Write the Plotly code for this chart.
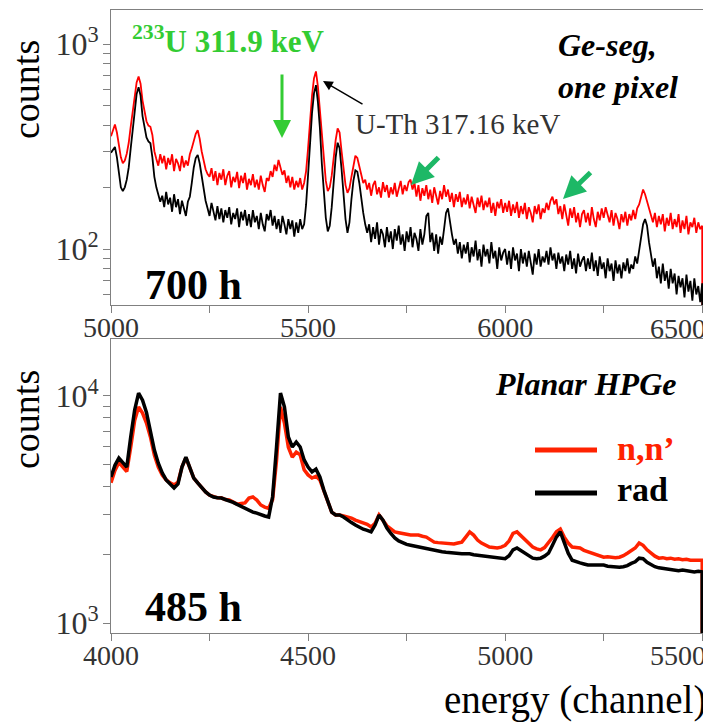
import plotly.graph_objects as go

# ---------------- data ----------------
top_channels = list(range(5000, 6501, 5))
top_nn = [355, 380, 405, 370, 320, 280, 262, 270, 292, 330,
          395, 470, 565, 650, 695, 640, 530, 470, 420, 400,
          395, 360, 300, 275, 255, 290, 262, 285, 245, 278,
          258, 290, 240, 275, 262, 240, 285, 250, 270, 255,
          290, 310, 340, 365, 380, 345, 300, 270, 245, 232,
          225, 248, 215, 240, 205, 235, 218, 245, 205, 228,
          240, 200, 225, 212, 238, 198, 228, 210, 235, 195,
          220, 205, 232, 200, 218, 195, 228, 205, 190, 222,
          215, 240, 225, 258, 240, 272, 250, 230, 242, 210,
          228, 200, 225, 195, 215, 200, 222, 195, 210, 240,
          310, 420, 560, 680, 735, 620, 470, 340, 262, 215,
          192, 200, 228, 280, 340, 388, 370, 300, 245, 205,
          188, 198, 225, 260, 285, 278, 255, 230, 210, 218,
          195, 210, 182, 205, 215, 185, 200, 178, 212, 190,
          205, 178, 200, 185, 210, 180, 198, 215, 185, 205,
          192, 212, 218, 195, 210, 180, 205, 172, 198, 182,
          205, 175, 195, 168, 200, 180, 165, 192, 175, 205,
          180, 195, 170, 188, 160, 185, 170, 190, 160, 178,
          165, 185, 158, 180, 165, 150, 178, 160, 182, 155,
          172, 160, 178, 150, 168, 145, 170, 158, 175, 150,
          168, 152, 172, 145, 165, 150, 170, 142, 162, 148,
          168, 140, 160, 150, 135, 162, 148, 165, 140, 158,
          150, 168, 155, 172, 180, 165, 175, 148, 162, 140,
          165, 145, 130, 158, 142, 160, 135, 150, 128, 148,
          155, 135, 150, 130, 160, 140, 128, 152, 138, 158,
          142, 160, 148, 135, 155, 130, 150, 140, 125, 148,
          135, 152, 130, 148, 138, 155, 140, 158, 165, 180,
          195, 185, 172, 160, 145, 135, 150, 128, 145, 132,
          148, 122, 142, 130, 150, 125, 140, 128, 148, 120,
          138, 125, 145, 118, 135, 128, 142, 120, 135, 125,
          130]
top_rad = [295, 305, 315, 280, 235, 200, 192, 200, 218, 250,
           310, 390, 480, 570, 615, 560, 445, 390, 350, 335,
           328, 280, 225, 200, 185, 170, 182, 160, 190, 165,
           178, 152, 185, 160, 175, 148, 172, 155, 145, 170,
           180, 210, 250, 278, 288, 262, 225, 195, 172, 158,
           145, 168, 150, 138, 162, 140, 158, 135, 155, 142,
           160, 132, 150, 140, 158, 128, 152, 138, 155, 130,
           148, 128, 155, 135, 145, 125, 150, 132, 122, 148,
           138, 155, 130, 145, 125, 140, 120, 145, 132, 118,
           140, 125, 138, 115, 135, 120, 140, 125, 132, 165,
           230, 330, 460, 575, 630, 520, 390, 260, 185, 142,
           122, 130, 160, 215, 280, 330, 310, 245, 185, 140,
           120, 135, 175, 215, 242, 238, 210, 175, 150, 132,
           120, 132, 108, 128, 112, 135, 105, 125, 118, 102,
           128, 108, 122, 100, 125, 110, 130, 105, 118, 98,
           122, 108, 128, 102, 120, 112, 98, 125, 105, 118,
           145, 150, 108, 120, 98, 118, 95, 115, 105, 125,
           150, 158, 132, 118, 105, 112, 95, 108, 90, 105,
           95, 108, 86, 102, 92, 110, 88, 100, 82, 105,
           92, 100, 85, 108, 90, 98, 80, 102, 88, 96,
           100, 84, 98, 80, 102, 88, 95, 78, 100, 85,
           96, 82, 98, 86, 75, 95, 84, 100, 82, 92,
           86, 98, 84, 102, 88, 95, 80, 96, 85, 92,
           78, 94, 84, 98, 80, 90, 76, 95, 82, 88,
           92, 78, 90, 80, 96, 78, 88, 74, 92, 80,
           86, 72, 90, 78, 85, 70, 88, 76, 84, 72,
           86, 78, 90, 76, 84, 80, 92, 85, 98, 115,
           132, 140, 130, 108, 95, 82, 90, 72, 82, 68,
           85, 70, 78, 64, 80, 68, 76, 60, 74, 65,
           72, 58, 75, 62, 70, 56, 72, 60, 66, 55,
           68]
top_last_channel = 6501
top_last_value = 1

bot_channels = list(range(4000, 5501, 10))
bot_nn = [4150, 4700, 5100, 4900, 4650, 5950, 7800, 8950, 8400, 7600, 6600, 5500, 4860, 4490, 4270, 4140, 4060, 4170, 4860, 5350,
          4860, 4350, 4140, 3930, 3780, 3660, 3600, 3560, 3560, 3500, 3480, 3400, 3340, 3360, 3380, 3550, 3590, 3480, 3310, 3240,
          3200, 3500, 5200, 8950, 7600, 5950, 5380, 5660, 5500, 4730, 4490, 4350, 4430, 4270, 3850, 3410, 3080, 2990, 2990, 2960,
          2930, 2900, 2840, 2800, 2750, 2720, 2650, 2750, 2990, 2840, 2680, 2600, 2520, 2500, 2490, 2460, 2440, 2450, 2440, 2410,
          2390, 2330, 2270, 2260, 2250, 2240, 2250, 2230, 2250, 2270, 2390, 2520, 2440, 2320, 2250, 2200, 2160, 2150, 2140, 2160,
          2200, 2300, 2480, 2520, 2420, 2320, 2230, 2160, 2120, 2100, 2150, 2250, 2380, 2520, 2590, 2390, 2250, 2160, 2150, 2140,
          2090, 2060, 2020, 1990, 1970, 1950, 1960, 1950, 1940, 1950, 1980, 2030, 2080, 2140, 2250, 2200, 2100, 2030, 1970, 1930,
          1940, 1920, 1930, 1910, 1920, 1900, 1910, 1890, 1890, 1880, 1890]
bot_rad = [4400, 4950, 5330, 5100, 4860, 6600, 8670, 10300, 9590, 8470, 7080, 5780, 5060, 4580, 4270, 4100, 3930, 4100, 4860, 5380,
           4860, 4350, 4140, 3930, 3780, 3660, 3590, 3560, 3550, 3500, 3460, 3400, 3330, 3260, 3210, 3140, 3080, 3050, 2990, 2960,
           2930, 3600, 5960, 10300, 8960, 6600, 5960, 6270, 5960, 5230, 4860, 4630, 4760, 4400, 3850, 3410, 3080, 2990, 2990, 2930,
           2840, 2770, 2700, 2640, 2590, 2560, 2520, 2700, 2990, 2840, 2620, 2480, 2370, 2300, 2250, 2220, 2200, 2180, 2160, 2150,
           2140, 2120, 2100, 2080, 2060, 2050, 2040, 2040, 2030, 2020, 2020, 2020, 2000, 1990, 1980, 1960, 1950, 1940, 1930, 1920,
           1920, 1980, 2100, 2140, 2080, 2030, 1970, 1930, 1920, 1930, 1970, 2030, 2200, 2390, 2520, 2250, 2030, 1890, 1860, 1840,
           1820, 1800, 1800, 1800, 1790, 1800, 1780, 1770, 1770, 1760, 1770, 1790, 1830, 1860, 1930, 1920, 1850, 1800, 1770, 1750,
           1740, 1720, 1710, 1710, 1700, 1710, 1700, 1690, 1680, 1690, 1680]
bot_last_channel = 5501
bot_last_value = 1

top_xticks = [5000, 5250, 5500, 5750, 6000, 6250, 6500]
top_xlabels = ["5000", "", "5500", "", "6000", "", ""]
top_edge_label = "6500"
bot_xticks = [4000, 4250, 4500, 4750, 5000, 5250, 5500]
bot_xlabels = ["4000", "", "4500", "", "5000", "", ""]
bot_edge_label = "5500"
top_yticks = [60, 70, 80, 90, 100, 200, 300, 400, 500, 600, 700, 800, 900, 1000]
top_ylabels = ["", "", "", "", "10<sup>2</sup>", "", "", "", "", "", "", "", "", "10<sup>3</sup>"]
bot_yticks = [1000, 2000, 3000, 4000, 5000, 6000, 7000, 8000, 9000, 10000]
bot_ylabels = ["10<sup>3</sup>", "", "", "", "", "", "", "", "", "10<sup>4</sup>"]

# ---------------- figure ----------------
W, H = 703, 714          # page body margin of 8 px shifts the figure
OX, OY = 8, 8
SERIF = "Liberation Serif"
RED_TOP = "#ff0000"
RED_BOT = "#ff2200"


def px(x):
    return (x - OX) / W


def py(y):
    return 1 - (y - OY) / H


fig = go.Figure()
fig.add_trace(go.Scatter(x=top_channels + [top_last_channel], y=top_nn + [top_last_value],
                         mode="lines", line=dict(color=RED_TOP, width=1.8), xaxis="x", yaxis="y",
                         showlegend=False))
fig.add_trace(go.Scatter(x=top_channels + [top_last_channel], y=top_rad + [top_last_value],
                         mode="lines", line=dict(color="black", width=1.8), xaxis="x", yaxis="y",
                         showlegend=False))
fig.add_trace(go.Scatter(x=bot_channels + [bot_last_channel], y=bot_nn + [bot_last_value],
                         mode="lines", line=dict(color=RED_BOT, width=3.5), xaxis="x2", yaxis="y2",
                         showlegend=False))
fig.add_trace(go.Scatter(x=bot_channels + [bot_last_channel], y=bot_rad + [bot_last_value],
                         mode="lines", line=dict(color="black", width=3.5), xaxis="x2", yaxis="y2",
                         showlegend=False))

axis_common = dict(showgrid=False, zeroline=False, showline=True, linecolor="#808080", linewidth=1,
                   mirror=True, ticks="outside", tickcolor="#808080", ticklen=7, tickwidth=1,
                   automargin=False)
xfont = dict(family=SERIF, size=28, color="#333333")
yfont = dict(family=SERIF, size=32, color="#333333")

fig.update_layout(
    template="none",
    width=W, height=H,
    margin=dict(l=0, r=0, t=0, b=0, autoexpand=False),
    paper_bgcolor="white", plot_bgcolor="white",
    xaxis=dict(domain=[px(111), px(703)], range=[5000, 6502], anchor="y",
               tickmode="array", tickvals=top_xticks, ticktext=top_xlabels,
               tickfont=xfont, ticklabelstandoff=-10, **axis_common),
    yaxis=dict(domain=[py(305), py(10)], type="log", range=[1.727, 3.166], anchor="x",
               tickmode="array", tickvals=top_yticks, ticktext=top_ylabels,
               tickfont=yfont, ticklabelstandoff=-2, **axis_common),
    xaxis2=dict(domain=[px(111), px(703)], range=[4000, 5502], anchor="y2",
                tickmode="array", tickvals=bot_xticks, ticktext=bot_xlabels,
                tickfont=xfont, ticklabelstandoff=-10, **axis_common),
    yaxis2=dict(domain=[py(633), py(339)], type="log", range=[2.956, 4.251], anchor="x2",
                tickmode="array", tickvals=bot_yticks, ticktext=bot_ylabels,
                tickfont=yfont, ticklabelstandoff=-2, **axis_common),
)

ann = []


def text(x, y, s, size, color="black", bold=False, italic=False, xanchor="center", yanchor="middle",
         family=SERIF, align="center"):
    t = s
    if bold:
        t = "<b>" + t + "</b>"
    if italic:
        t = "<i>" + t + "</i>"
    ann.append(dict(x=px(x), y=py(y), xref="paper", yref="paper", text=t, showarrow=False,
                    xanchor=xanchor, yanchor=yanchor, align=align,
                    font=dict(family=family, size=size, color=color)))


def arrow(x0, y0, x1, y1, color, width, size):
    # arrow from pixel (x0, y0) to tip (x1, y1)
    ann.append(dict(x=px(x1), y=py(y1), xref="paper", yref="paper", axref="pixel", ayref="pixel",
                    ax=x0 - x1, ay=y0 - y1, text="", showarrow=True, arrowhead=2, arrowsize=size,
                    arrowwidth=width, arrowcolor=color))


# right-edge tick labels (pulled inside the page as in the reference)
text(708, 328, top_edge_label, 28, color="#333333", xanchor="right")
text(708, 655, bot_edge_label, 28, color="#333333", xanchor="right")

# axis titles
for yc in (90, 420):
    ann.append(dict(x=px(26), y=py(yc), xref="paper", yref="paper", text="counts", showarrow=False,
                    textangle=-90, xanchor="center", yanchor="middle",
                    font=dict(family=SERIF, size=38, color="black")))
text(708, 700, "energy (channel)", 39, xanchor="right")

# panel labels
text(143, 285, "700 h", 42, bold=True, xanchor="left")
text(143, 607, "485 h", 42, bold=True, xanchor="left")
text(556, 66, "Ge-seg,<br>one pixel", 32, bold=True, italic=True, xanchor="left", align="left")
text(678, 384, "Planar HPGe", 32, bold=True, italic=True, xanchor="right")

# green label + arrow
text(130, 40, "<sup>233</sup>U 311.9 keV", 31, color="#33cc33", bold=True, xanchor="left")
arrow(282, 73, 282, 138, "#33cc33", 3, 1.2)

# U-Th annotation
text(353, 124, "U-Th 317.16 keV", 29, color="#333333", xanchor="left")
arrow(364, 105, 323, 81, "black", 1.5, 1.3)

# teal arrows
arrow(440, 156, 411, 185, "#1db866", 5, 0.9)
arrow(592, 171, 563, 199, "#1db866", 5, 0.9)

# legend
text(615, 448, "n,n’", 34, color=RED_BOT, bold=True, xanchor="left")
text(615, 489, "rad", 34, color="black", bold=True, xanchor="left")

fig.update_layout(annotations=ann, shapes=[
    dict(type="line", xref="paper", yref="paper", x0=px(535), x1=px(597), y0=py(450), y1=py(450),
         line=dict(color=RED_BOT, width=5)),
    dict(type="line", xref="paper", yref="paper", x0=px(535), x1=px(597), y0=py(493), y1=py(493),
         line=dict(color="black", width=5)),
])

fig.write_html("out.html")
